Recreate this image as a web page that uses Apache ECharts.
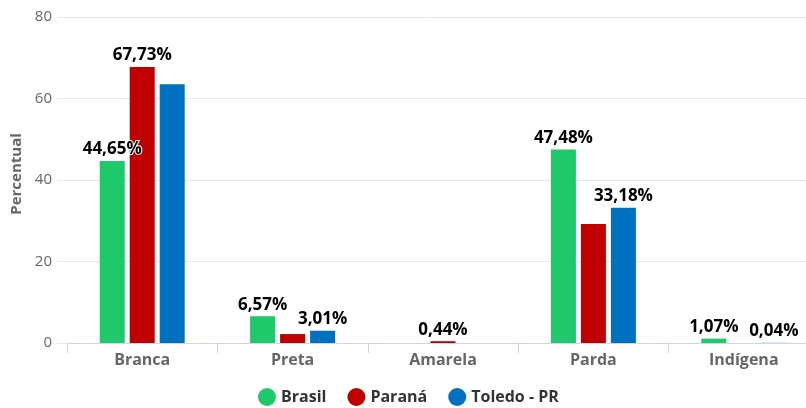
<!DOCTYPE html>
<html>
<head>
<meta charset="utf-8">
<script src="https://cdn.jsdelivr.net/npm/echarts@6/dist/echarts.min.js"></script>
<style>
  html, body { margin: 0; padding: 0; background: #fff; }
  #chart { width: 806px; height: 408px; }
</style>
</head>
<body>
<div id="chart"></div>
<script>
const categories = ["Branca", "Preta", "Amarela", "Parda", "Indígena"];
const seriesNames = ["Brasil", "Paraná", "Toledo - PR"];
const brasil = [44.65, 6.57, null, 47.48, 1.07];
const parana = [67.73, 2.2, 0.44, 29.2, null];
const toledo = [63.5, 3.01, null, 33.18, 0.04];
const yTicks = [0, 20, 40, 60, 80];
// labels the original hides because they would collide
const hiddenLabels = { "Paraná": [1, 3], "Toledo - PR": [0] };

const colors = ["#1fc86a", "#c00000", "#0070c0"];
const font = "'Open Sans', 'DejaVu Sans', sans-serif";

const fmt = (v) => v.toFixed(2).replace(".", ",") + "%";

const makeSeries = (name, values, i) => ({
  name: name,
  type: "bar",
  xAxisIndex: 0,
  yAxisIndex: 0,
  barWidth: 25,
  barGap: "20%",
  itemStyle: { color: colors[i] },
  label: {
    show: true,
    position: "top",
    distance: 3,
    formatter: (p) => fmt(p.value),
    color: "#000",
    fontFamily: font,
    fontWeight: "bold",
    fontSize: 17,
    textBorderColor: "#fff",
    textBorderWidth: 2,
  },
  data: values.map((v, j) => {
    const hide = (hiddenLabels[name] || []).includes(j);
    return hide ? { value: v, label: { show: false } } : v;
  }),
});

const chart = echarts.init(document.getElementById("chart"));
chart.setOption({
  animation: false,
  color: colors,
  grid: [
    { left: 67, width: 752, top: 17, bottom: 65, outerBoundsMode: "none" },
    { left: 57, right: 0, top: 17, bottom: 65, outerBoundsMode: "none" },
  ],
  legend: {
    top: 383,
    left: 253,
    icon: "circle",
    itemWidth: 18,
    itemHeight: 18,
    itemGap: 21,
    itemStyle: { borderWidth: 0 },
    data: seriesNames,
    textStyle: { color: "#333", fontFamily: font, fontWeight: "bold", fontSize: 16 },
  },
  xAxis: [
    {
      type: "category",
      gridIndex: 0,
      data: categories,
      axisLine: { lineStyle: { color: "#ccd6eb" } },
      axisTick: { show: true, length: 10, lineStyle: { color: "#ccd6eb" } },
      axisLabel: { color: "#666", fontFamily: font, fontWeight: "bold", fontSize: 16, margin: 9 },
    },
    { type: "category", gridIndex: 1, data: categories, show: false },
  ],
  yAxis: [
    { type: "value", gridIndex: 0, min: 0, max: 80, interval: 20, show: false, splitLine: { show: false } },
    {
      type: "value",
      gridIndex: 1,
      min: yTicks[0],
      max: yTicks[yTicks.length - 1],
      interval: 20,
      name: "Percentual",
      nameLocation: "middle",
      nameGap: 33,
      nameTextStyle: { color: "#666", fontFamily: font, fontWeight: "bold", fontSize: 15, padding: [0, 0, 0, 12] },
      axisLine: { show: false },
      axisTick: { show: false },
      axisLabel: { color: "#666", fontFamily: font, fontSize: 15, margin: 5 },
      splitLine: { lineStyle: { color: "#e6e6e6" } },
    },
  ],
  series: [
    makeSeries(seriesNames[0], brasil, 0),
    makeSeries(seriesNames[1], parana, 1),
    makeSeries(seriesNames[2], toledo, 2),
  ],
});
</script>
</body>
</html>
